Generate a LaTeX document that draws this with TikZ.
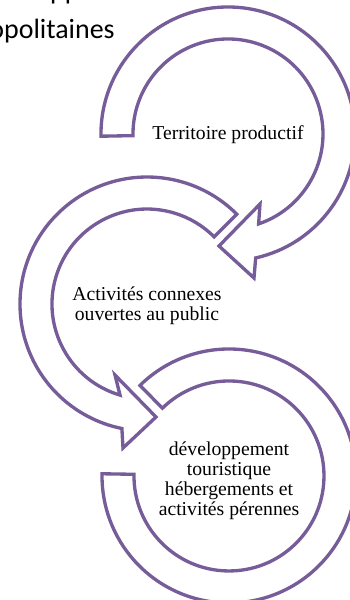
\documentclass[tikz,border=0pt]{standalone}
\usepackage{fontspec}
\setmainfont{Liberation Serif}
\newfontfamily\headfont{Carlito}
\usepackage{xcolor}
\usepackage{tikz}
\usetikzlibrary{positioning}

\definecolor{ringpurple}{RGB}{118,93,153}

\begin{document}
\begin{tikzpicture}[
    x=0.02cm, y=0.02cm,
    ring/.style={draw=ringpurple, line width=1.9pt, line join=miter},
    ringtext/.style={font=\fontsize{11.2}{11.4}\selectfont, align=center, text=black, inner sep=0pt},
    heading/.style={font=\headfont\fontsize{15.9}{19}\selectfont, inner sep=0pt}
]
\useasboundingbox (0,0) rectangle (350,-600);
\clip (0,0) rectangle (350,-600);

% Heading, cut by the frame
\node[heading, anchor=base west] (head1) at (-26,1) {développement de};
\node[heading, anchor=base east] (head2) at (115,-38) {métropolitaines};

% First ring: tail on the left, head pointing down-left
\draw[ring] (101,-136.2) arc[start angle=181, end angle=-77.4, radius=127]
    -- (254,-278) -- (219,-246) -- (260,-204) -- (258.6,-223.9)
    arc[start angle=-71.2, end angle=181, radius=95] -- cycle;

% Second ring: tail top right, head pointing right
\draw[ring] (236.8,-214.2) arc[start angle=45, end angle=258.6, radius=127]
    -- (123,-448) -- (156,-417) -- (115,-375) -- (120,-395.1)
    arc[start angle=253.5, end angle=45, radius=95] -- cycle;

% Third ring: no head
\draw[ring] (140,-385.4) arc[start angle=134.5, end angle=-181, radius=127]
    -- (134,-474.3)
    arc[start angle=-181, end angle=134.5, radius=95] -- cycle;

% Ring labels
\node[ringtext] (territoire) at (228,-135) {Territoire productif};
\node[ringtext] (activites) at (147,-306) {Activités connexes\\ouvertes au public};
\node[ringtext] (developpement) at (229,-481) {développement\\touristique\\hébergements et\\activités pérennes};

\end{tikzpicture}
\end{document}
